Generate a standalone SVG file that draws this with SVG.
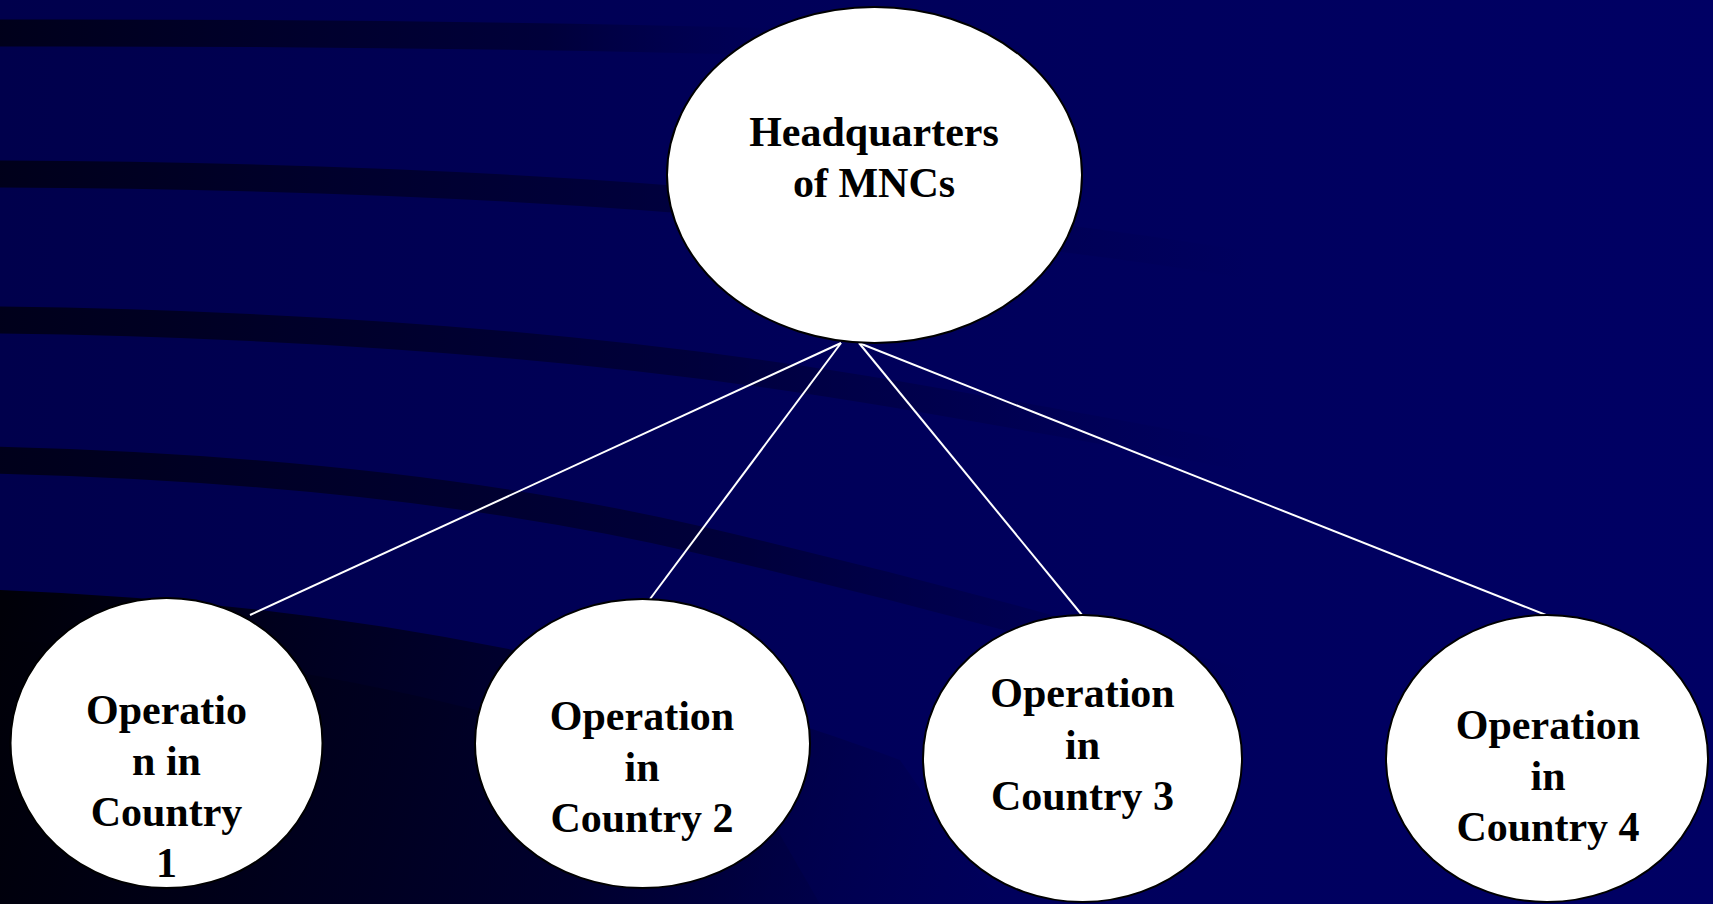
<svg xmlns="http://www.w3.org/2000/svg" width="1713" height="904" viewBox="0 0 1713 904">
<defs>
<linearGradient id="bg" x1="0" y1="0" x2="1" y2="0">
<stop offset="0" stop-color="#00004c"/>
<stop offset="0.5" stop-color="#00005a"/>
<stop offset="1" stop-color="#000064"/>
</linearGradient>
<linearGradient id="fadeA" gradientUnits="userSpaceOnUse" x1="0" y1="0" x2="780" y2="0">
<stop offset="0" stop-color="#000018" stop-opacity="0.95"/>
<stop offset="0.7" stop-color="#000028" stop-opacity="0.6"/>
<stop offset="1" stop-color="#000040" stop-opacity="0"/>
</linearGradient>
<linearGradient id="fadeB" gradientUnits="userSpaceOnUse" x1="0" y1="0" x2="1250" y2="0">
<stop offset="0" stop-color="#000018" stop-opacity="0.95"/>
<stop offset="0.5" stop-color="#000028" stop-opacity="0.6"/>
<stop offset="1" stop-color="#000040" stop-opacity="0"/>
</linearGradient>
<linearGradient id="fadeC" gradientUnits="userSpaceOnUse" x1="0" y1="0" x2="1250" y2="0">
<stop offset="0" stop-color="#000018" stop-opacity="0.95"/>
<stop offset="0.55" stop-color="#000028" stop-opacity="0.6"/>
<stop offset="1" stop-color="#000040" stop-opacity="0"/>
</linearGradient>
<linearGradient id="fadeD" gradientUnits="userSpaceOnUse" x1="0" y1="0" x2="1250" y2="0">
<stop offset="0" stop-color="#000018" stop-opacity="0.95"/>
<stop offset="0.6" stop-color="#000028" stop-opacity="0.6"/>
<stop offset="1" stop-color="#000040" stop-opacity="0"/>
</linearGradient>
<linearGradient id="fadeE" gradientUnits="userSpaceOnUse" x1="0" y1="620" x2="1000" y2="900">
<stop offset="0" stop-color="#000008" stop-opacity="1"/>
<stop offset="0.6" stop-color="#000028" stop-opacity="0.7"/>
<stop offset="1" stop-color="#000040" stop-opacity="0"/>
</linearGradient>
<style>
.node ellipse{fill:#ffffff;stroke:#000000;stroke-width:2}
.node text{font-family:"Liberation Serif","Times New Roman",serif;font-weight:bold;font-size:42px;fill:#000000;text-anchor:middle}
.conn line{stroke:#ffffff;stroke-width:2}
.band{fill:none;stroke-width:27}
</style>
</defs>
<g id="background">
<rect x="0" y="0" width="1713" height="904" fill="url(#bg)"/>
<path class="band" d="M -10 33 Q 400 32 780 42" stroke="url(#fadeA)"/>
<path class="band" d="M -10 174 Q 450 176 800 210 T 1300 275" stroke="url(#fadeB)"/>
<path class="band" d="M -10 320 Q 500 326 900 395 T 1450 500" stroke="url(#fadeC)" stroke-width="26"/>
<path class="band" d="M -10 460 Q 400 470 700 540 T 1300 700" stroke="url(#fadeD)" stroke-width="28"/>
<path d="M 0 590 Q 500 610 900 760 L 1000 904 L 0 904 Z" fill="url(#fadeE)"/>
<path d="M 0 640 Q 400 660 760 800 L 820 904 L 0 904 Z" fill="url(#fadeE)" opacity="0.8"/>
</g>
<g id="connectors" class="conn">
<line x1="841" y1="343" x2="250" y2="615"/>
<line x1="841" y1="343" x2="650" y2="599"/>
<line x1="859" y1="343" x2="1082" y2="615"/>
<line x1="859" y1="343" x2="1546" y2="615"/>
</g>
<g id="hq" class="node">
<ellipse cx="874.5" cy="175" rx="207.5" ry="168"/>
<text x="874" y="146">Headquarters</text>
<text x="874" y="197">of MNCs</text>
</g>
<g id="country1" class="node">
<ellipse cx="166.5" cy="743" rx="156" ry="145"/>
<text x="166.5" y="724">Operatio</text>
<text x="166.5" y="775">n in</text>
<text x="166.5" y="826">Country</text>
<text x="166.5" y="877">1</text>
</g>
<g id="country2" class="node">
<ellipse cx="642.5" cy="743.5" rx="167.5" ry="144.5"/>
<text x="642" y="730">Operation</text>
<text x="642" y="781">in</text>
<text x="642" y="832">Country 2</text>
</g>
<g id="country3" class="node">
<ellipse cx="1082.5" cy="758.5" rx="159.5" ry="143.5"/>
<text x="1082.5" y="707">Operation</text>
<text x="1082.5" y="759">in</text>
<text x="1082.5" y="810">Country 3</text>
</g>
<g id="country4" class="node">
<ellipse cx="1547" cy="758.5" rx="161" ry="143.5"/>
<text x="1548" y="739">Operation</text>
<text x="1548" y="790">in</text>
<text x="1548" y="841">Country 4</text>
</g>
</svg>
